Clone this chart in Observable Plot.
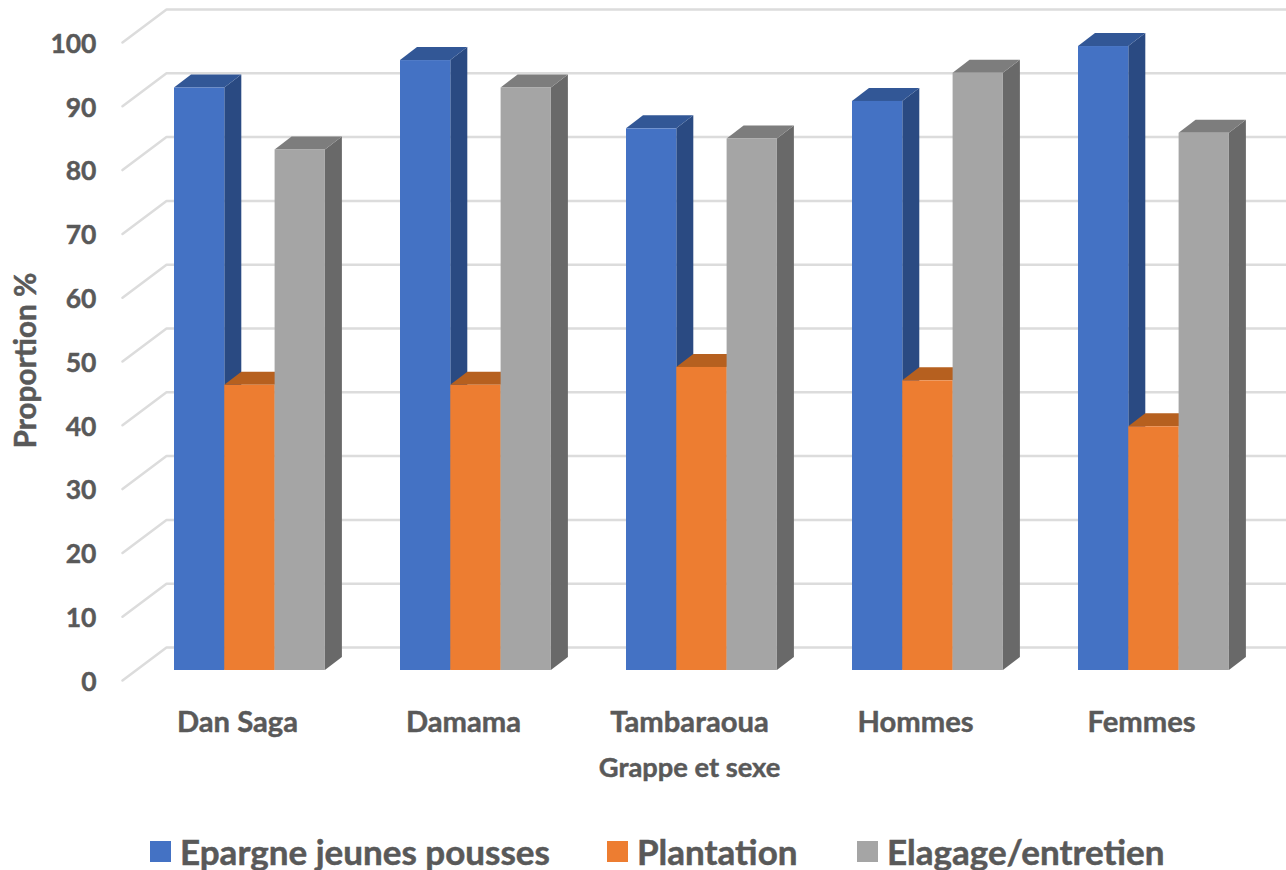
<!DOCTYPE html>
<html lang="fr">
<head>
<meta charset="utf-8">
<script src="https://cdn.jsdelivr.net/npm/d3@7"></script>
<script src="https://cdn.jsdelivr.net/npm/@observablehq/plot@0.6"></script>
<style>
html,body{margin:0;padding:0;background:#fff;width:1286px;height:870px;overflow:hidden}
#legend{position:relative;height:50px;font:700 35px Lato,sans-serif;color:#595959;-webkit-text-stroke:0.5px #595959}
#legend .it{position:absolute;top:10px;line-height:42px;white-space:nowrap}
#legend i{position:absolute;top:11px;width:21px;height:21px;-webkit-text-stroke:0}
</style>
</head>
<body>
<div id="chart"></div>
<div id="legend"></div>
<script>
const categories = ["Dan Saga", "Damama", "Tambaraoua", "Hommes", "Femmes"];
const seriesNames = ["Epargne jeunes pousses", "Plantation", "Elagage/entretien"];
const epargne = [91.3, 95.6, 84.9, 89.2, 97.8];
const plantation = [44.7, 44.7, 47.5, 45.4, 38.2];
const elagage = [81.6, 91.3, 83.3, 93.6, 84.2];
const yTicks = [0, 10, 20, 30, 40, 50, 60, 70, 80, 90, 100];

const frontColors = ["#4472C4", "#ED7D31", "#A5A5A5"];
const topColors = ["#325796", "#B6601F", "#7D7D7D"];
const sideColors = ["#2A4A82", "#A35519", "#696969"];

// scales: x counted in category pitches, y in percentage points of the front plane
const W = 1286, H = 820, pitch = 226, unit = 6.38;
const px = p => (p - 174) / pitch;       // horizontal distance helper
const barW = 50.3 / pitch, depthX = 17 / pitch, depthY = 13 / unit;
const wallLift = 23 / unit, floorDrop = 10 / unit;
const wallLeft = px(166), axisLeft = px(122), wallRight = px(1286);

const values = [epargne, plantation, elagage];
const marks = [];

// gridlines: back wall and left wall
const wall = yTicks.flatMap(t => [
  {x: axisLeft, y: t - floorDrop, t},
  {x: wallLeft, y: t + wallLift, t},
  {x: wallRight, y: t + wallLift, t}
]);
marks.push(Plot.line(wall, {x: "x", y: "y", z: "t", stroke: "#dcdcdc", strokeWidth: 2.5, curve: "linear"}));

// bars, series by series
seriesNames.forEach((name, k) => {
  const bars = categories.map((c, i) => ({
    c, i, v: values[k][i], x0: i + k * barW, x1: i + (k + 1) * barW
  }));
  const side = bars.flatMap(b => [
    {id: b.c, x: b.x1, y1: 0, y2: b.v},
    {id: b.c, x: b.x1 + depthX, y1: depthY, y2: b.v + depthY}
  ]);
  const top = bars.flatMap(b => [
    {id: b.c, x: b.x0, y1: b.v, y2: b.v},
    {id: b.c, x: b.x0 + depthX, y1: b.v, y2: b.v + depthY},
    {id: b.c, x: b.x1, y1: b.v, y2: b.v + depthY},
    {id: b.c, x: b.x1 + depthX, y1: b.v + depthY, y2: b.v + depthY}
  ]);
  marks.push(
    Plot.areaY(side, {x: "x", y1: "y1", y2: "y2", z: "id", fill: sideColors[k]}),
    Plot.areaY(top, {x: "x", y1: "y1", y2: "y2", z: "id", fill: topColors[k]}),
    Plot.rect(bars, {x1: "x0", x2: "x1", y1: 0, y2: "v", fill: frontColors[k]})
  );
});

const labelFont = {fontFamily: "Lato, sans-serif", fontWeight: 700, fill: "#595959", stroke: "#595959", strokeWidth: 0.45};

// y tick labels
marks.push(Plot.text(yTicks, {
  x: px(96), y: d => d - 1.85, text: d => String(d), textAnchor: "end", fontSize: 26.5, ...labelFont
}));
// category labels
marks.push(Plot.text(categories, {
  x: (d, i) => i + px(237), y: -8.1, text: d => d, fontSize: 29.2, ...labelFont
}));
// axis titles
marks.push(Plot.text(["Grappe et sexe"], {
  x: px(689), y: -15.3, text: d => d, fontSize: 27.3, ...labelFont
}));
marks.push(Plot.text(["Proportion %"], {
  x: px(26), y: 48.6, text: d => d, rotate: -90, fontSize: 29.8, ...labelFont
}));

const chart = Plot.plot({
  width: W, height: H,
  marginTop: 0, marginRight: 0, marginBottom: 0, marginLeft: 0,
  x: {domain: [px(0), px(W)], range: [0, W], axis: null},
  y: {domain: [670 / unit, (670 - H) / unit], range: [0, H], axis: null},
  style: {background: "#fff", overflow: "hidden"},
  marks
});
document.getElementById("chart").appendChild(chart);

// legend
const legend = document.getElementById("legend");
const swatchLeft = [150, 607, 857];
seriesNames.forEach((name, k) => {
  const it = document.createElement("div");
  it.className = "it";
  it.style.left = (swatchLeft[k] + 30) + "px";
  it.textContent = name;
  const sw = document.createElement("i");
  sw.style.left = "-30px";
  sw.style.background = frontColors[k];
  it.appendChild(sw);
  legend.appendChild(it);
});
</script>
</body>
</html>
